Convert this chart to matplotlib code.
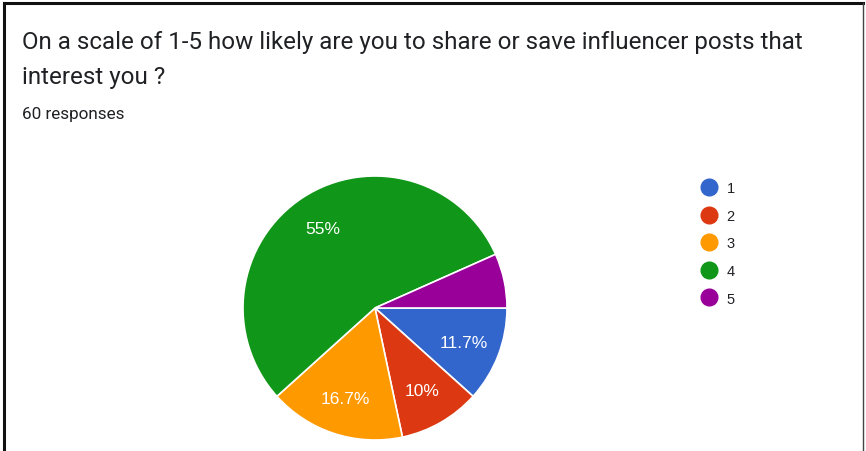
import matplotlib.pyplot as plt
from matplotlib.lines import Line2D

labels = ['1', '2', '3', '4', '5']
counts = [7, 6, 10, 33, 4]
colors = ['#3366CC', '#DC3912', '#FF9900', '#109618', '#990099']

title_lines = ['On a scale of 1-5 how likely are you to share or save influencer posts that',
               'interest you ?']
subtitle = '60 responses'

W, H = 866, 452
fig = plt.figure(figsize=(W / 100, H / 100), dpi=100)
fig.patch.set_facecolor('white')

# frame around the card (left, top, right)
fig.add_artist(Line2D([4 / W, 4 / W], [0, 1 - 4 / H], color='#111111', lw=2.2, transform=fig.transFigure))
fig.add_artist(Line2D([4 / W, 863 / W], [1 - 4 / H, 1 - 4 / H], color='#111111', lw=2.2, transform=fig.transFigure))
fig.add_artist(Line2D([863 / W, 863 / W], [0, 1 - 4 / H], color='#444444', lw=1.0, transform=fig.transFigure))

for line, y in zip(title_lines, [43, 78]):
    fig.text(22 / W, 1 - y / H, line, fontsize=17.4, family='Roboto', color='#202124',
             va='center', ha='left')
fig.text(22 / W, 1 - 114 / H, subtitle, fontsize=12.3, family='Roboto', color='#202124',
         va='center', ha='left')

cx, cy, r = 375, 309, 132
ax = fig.add_axes([(cx - r) / W, (H - cy - r) / H, 2 * r / W, 2 * r / H])
wedges, texts, autotexts = ax.pie(
    counts,
    colors=colors,
    startangle=0,
    counterclock=False,
    autopct=lambda p: (f'{p:.1f}%'.replace('.0%', '%')) if p >= 8 else '',
    pctdistance=0.72,
    wedgeprops=dict(edgecolor='white', linewidth=1.2),
    textprops=dict(fontsize=12.5, color='white', family='Liberation Sans'),
)
ax.set_xlim(-1, 1)
ax.set_ylim(-1, 1)
ax.axis('off')

handles = [Line2D([], [], marker='o', ls='', markersize=12, markerfacecolor=c,
                  markeredgecolor=c) for c in colors]
fig.legend(handles, labels, loc='upper left', bbox_to_anchor=(693 / W, 1 - 175 / H),
           frameon=False, labelspacing=0.93, handletextpad=0.6,
           handlelength=1.2, borderpad=0, labelcolor='#202124',
           prop=dict(family='Liberation Sans', size=10.5))

fig.savefig('out.png', dpi=100, facecolor='white')
